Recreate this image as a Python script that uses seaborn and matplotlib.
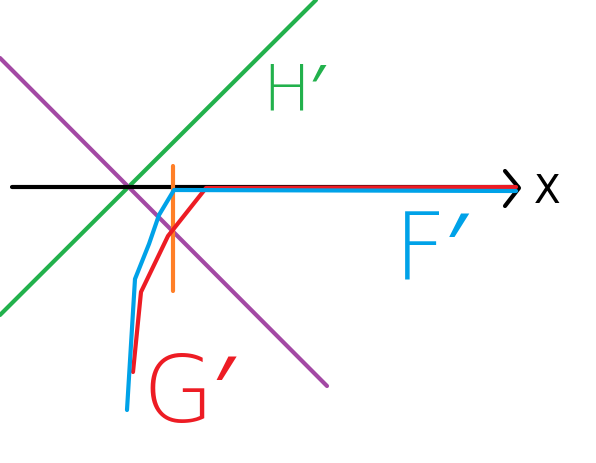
import matplotlib
matplotlib.use("Agg")
import matplotlib.pyplot as plt
import seaborn as sns
import pandas as pd

# sketch coordinates (pixels, y grows downward)
green_x = [0, 316]
green_y = [315, 0]
purple_x = [0, 327]
purple_y = [58, 386]
axis_x = [12, 518]
axis_y = [187, 187]
arrow_x = [505, 519, 505]
arrow_y = [171, 188, 206]
orange_x = [173, 173]
orange_y = [166, 291]
red_x = [516, 206, 168, 141, 133]
red_y = [187, 188, 236, 292, 372]
blue_x = [516, 174, 159, 149, 135, 127]
blue_y = [191, 190, 215, 244, 279, 410]

labels = ["H′", "F′", "G′", "X"]
label_x = [262, 394, 142, 534]
label_y = [110, 280, 422, 203]
label_colors = ["#22b14c", "#00a2e8", "#ed1c24", "black"]
label_sizes = [46, 66, 66, 28]
label_weights = ["light", "light", "light", "normal"]

sns.set_style("white")
plt.rcParams["font.family"] = ["DejaVu Sans", "Noto Sans", "Liberation Sans"]
fig = plt.figure(figsize=(5.96, 4.63), dpi=100)
ax = fig.add_axes([0, 0, 1, 1])

lines = [
    (green_x, green_y, "#22b14c"),
    (purple_x, purple_y, "#a349a4"),
    (axis_x, axis_y, "black"),
    (arrow_x, arrow_y, "black"),
    (orange_x, orange_y, "#ff7f27"),
    (red_x, red_y, "#ed1c24"),
    (blue_x, blue_y, "#00a2e8"),
]
for xs, ys, c in lines:
    df = pd.DataFrame({"x": xs, "y": ys})
    sns.lineplot(data=df, x="x", y="y", sort=False, estimator=None,
                 color=c, linewidth=3, ax=ax, solid_capstyle="round")

for t, x, y, c, s, w in zip(labels, label_x, label_y, label_colors,
                            label_sizes, label_weights):
    ax.text(x, y, t, color=c, fontsize=s, ha="left", va="baseline",
            fontweight=w)

ax.set_xlim(0, 596)
ax.set_ylim(463, 0)
ax.axis("off")
plt.savefig("out.png", dpi=100)
